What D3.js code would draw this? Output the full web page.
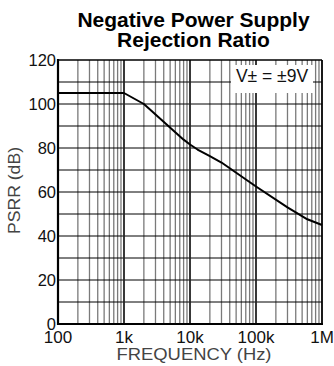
<!DOCTYPE html>
<html><head><meta charset="utf-8">
<script src="https://cdn.jsdelivr.net/npm/d3@7"></script>
<style>body{margin:0;background:#fff;}svg{display:block;font-family:"Liberation Sans",Arial,sans-serif;}</style>
</head><body><svg id="c" width="334" height="366"></svg>
<script>
const freq = [100, 1000, 2000, 8000, 10000, 13000, 20000, 30000, 100000, 300000, 600000, 1000000];
const psrr = [105, 105, 100, 83.8, 81.6, 79.3, 76.3, 73.4, 62.5, 53, 47.6, 45];
const xTicks = [100, 1000, 10000, 100000, 1000000];
const xTickLabels = ["100", "1k", "10k", "100k", "1M"];
const yTicks = [0, 20, 40, 60, 80, 100, 120];
const titleLines = ["Negative Power Supply", "Rejection Ratio"];
const legendText = "V\u00B1 = \u00B19V";

const svg = d3.select("#c");
const L = 58, R = 322, T = 60, B = 324;
const x = d3.scaleLog().domain([100, 1e6]).range([L, R]);
const y = d3.scaleLinear().domain([0, 120]).range([B, T]);

// minor vertical grid
const minor = [];
for (let d = 100; d < 1e6; d *= 10) for (let k = 2; k <= 9; k++) minor.push(d * k);
svg.append("g").selectAll("line").data(minor).join("line")
  .attr("x1", d => x(d)).attr("x2", d => x(d)).attr("y1", T).attr("y2", B)
  .attr("stroke", "#7a7a7a").attr("stroke-width", 1.3);
// horizontal grid
svg.append("g").selectAll("line").data(d3.range(10, 120, 10)).join("line")
  .attr("x1", L).attr("x2", R).attr("y1", d => y(d)).attr("y2", d => y(d))
  .attr("stroke", "#000").attr("stroke-width", 1);
// decade lines
svg.append("g").selectAll("line").data(xTicks.slice(1, -1)).join("line")
  .attr("x1", d => x(d)).attr("x2", d => x(d)).attr("y1", T).attr("y2", B)
  .attr("stroke", "#222").attr("stroke-width", 1.8);
// frame
svg.append("line").attr("x1", L).attr("x2", R).attr("y1", T).attr("y2", T).attr("stroke", "#000").attr("stroke-width", 1.3);
svg.append("line").attr("x1", R).attr("x2", R).attr("y1", T).attr("y2", B).attr("stroke", "#000").attr("stroke-width", 1.8);
svg.append("line").attr("x1", L).attr("x2", L).attr("y1", T - 1).attr("y2", B + 1).attr("stroke", "#000").attr("stroke-width", 2.2);
svg.append("line").attr("x1", L - 1).attr("x2", R + 1).attr("y1", B).attr("y2", B).attr("stroke", "#000").attr("stroke-width", 2.2);

// legend box
svg.append("rect").attr("x", 231).attr("y", 65).attr("width", 82).attr("height", 28).attr("fill", "#fff");
svg.append("text").attr("x", 272).attr("y", 82).attr("text-anchor", "middle")
  .attr("font-size", 17.5).attr("fill", "#111").text(legendText);

// curve
const line = d3.line().x((d, i) => x(freq[i])).y(d => y(d));
svg.append("path").datum(psrr).attr("d", line).attr("fill", "none")
  .attr("stroke", "#000").attr("stroke-width", 2).attr("stroke-linejoin", "round");

// y ticks
svg.append("g").selectAll("text").data(yTicks).join("text")
  .attr("x", 56).attr("y", d => y(d) + 6).attr("text-anchor", "end")
  .attr("font-size", 16.5).attr("fill", "#111").text(d => d);
// x ticks
svg.append("g").selectAll("text").data(xTicks).join("text")
  .attr("x", d => x(d)).attr("y", 343).attr("text-anchor", "middle")
  .attr("font-size", 17).attr("fill", "#111").text((d, i) => xTickLabels[i]);

// axis labels
svg.append("text").attr("x", 194).attr("y", 359.5).attr("text-anchor", "middle")
  .attr("font-size", 16).attr("fill", "#444").attr("textLength", 155).attr("lengthAdjust", "spacingAndGlyphs")
  .text("FREQUENCY (Hz)");
svg.append("text").attr("transform", "translate(20,190.5) rotate(-90)").attr("text-anchor", "middle")
  .attr("font-size", 17).attr("fill", "#444").attr("textLength", 87).attr("lengthAdjust", "spacingAndGlyphs")
  .text("PSRR (dB)");

// title
svg.append("g").selectAll("text").data(titleLines).join("text")
  .attr("x", 193.5).attr("y", (d, i) => 26.5 + i * 20).attr("text-anchor", "middle")
  .attr("font-size", 21).attr("font-weight", "bold").attr("fill", "#000").text(d => d);
</script></body></html>
